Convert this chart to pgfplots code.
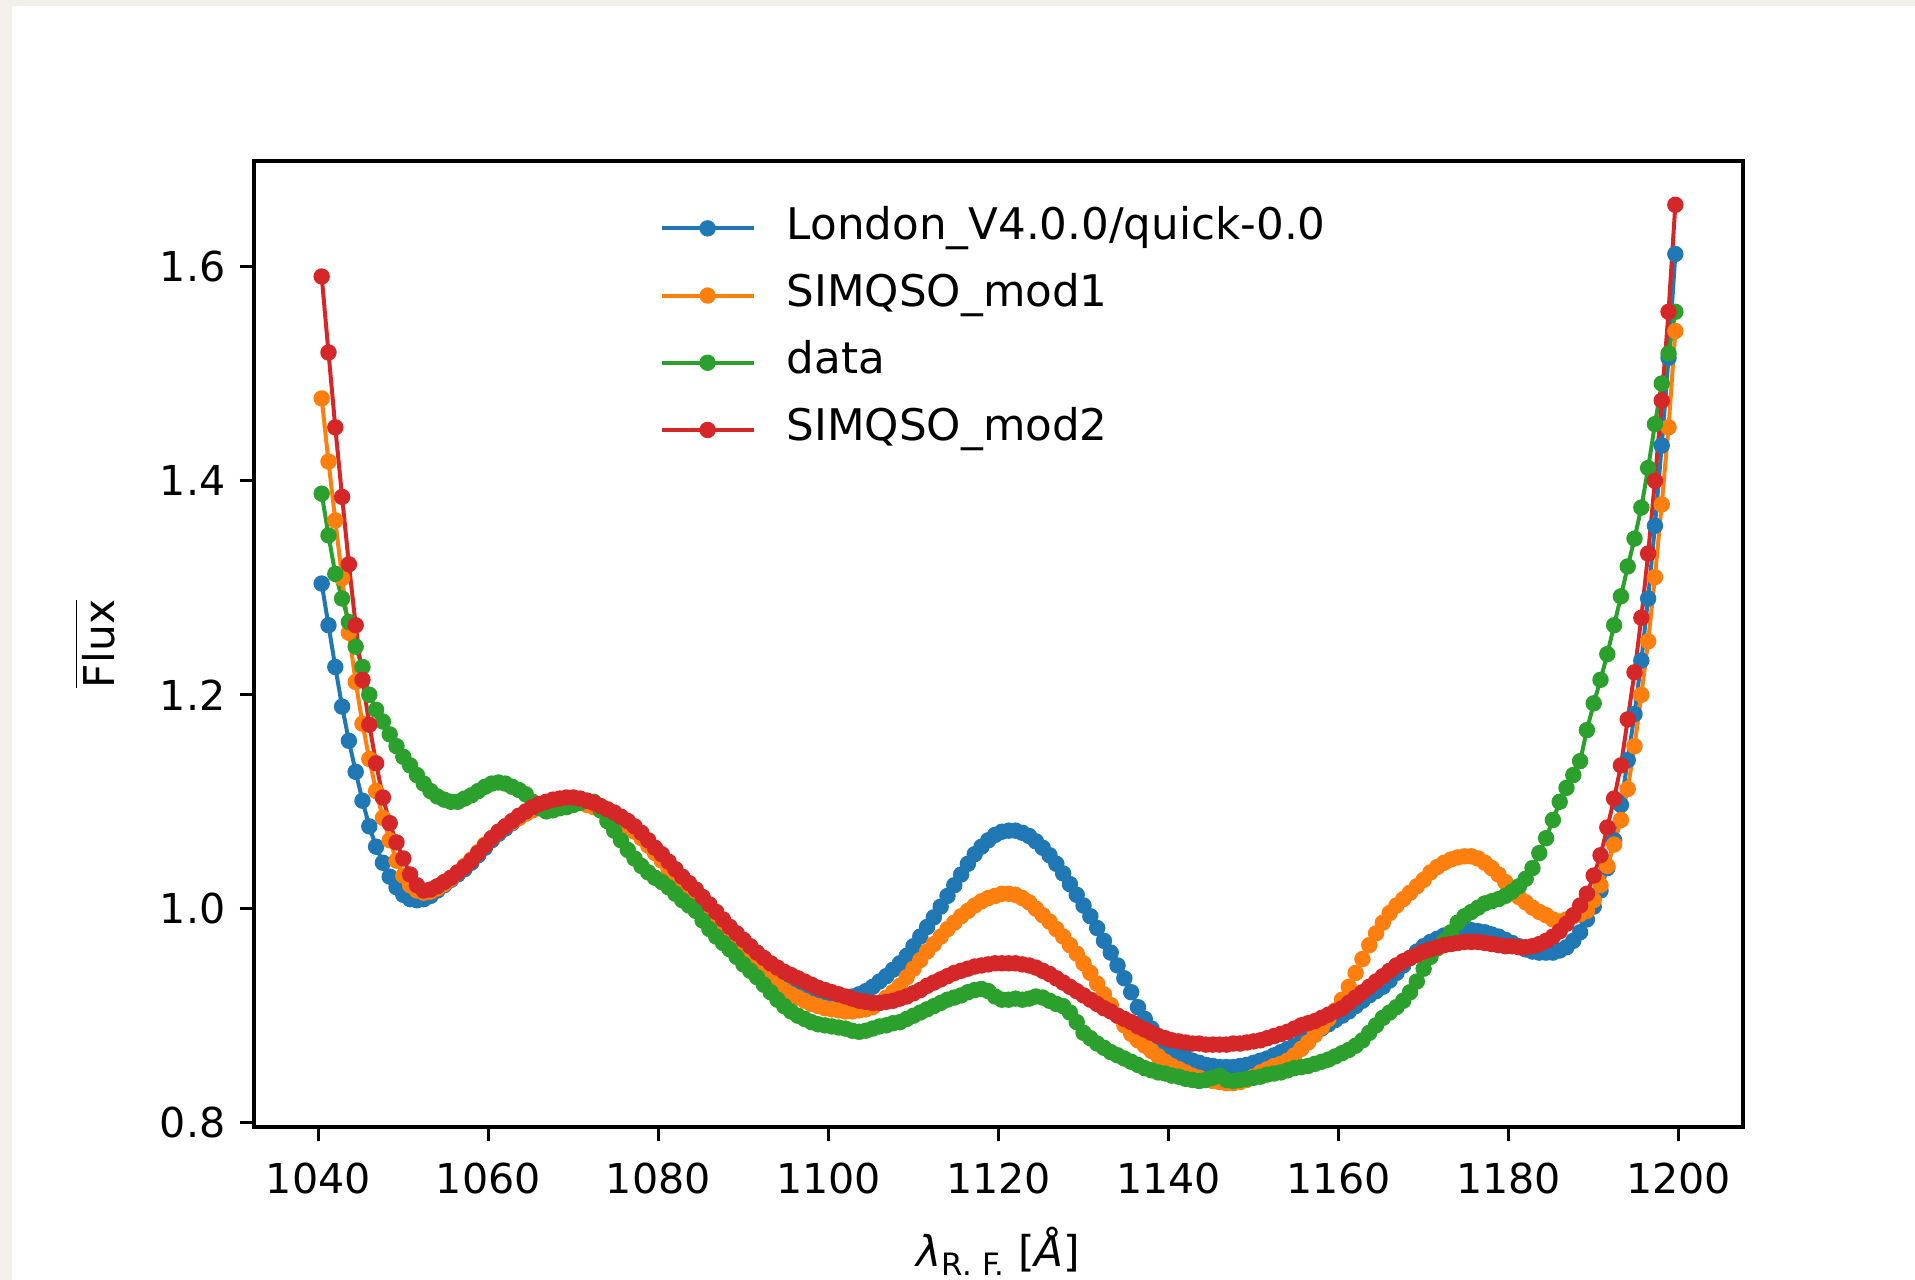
\documentclass[border=0pt]{standalone}
\usepackage{fontspec}
\setmainfont{DejaVu Sans}
\usepackage{pgfplots}
\usepackage{pgfplotstable}
\pgfplotsset{compat=1.18}
\definecolor{tabblue}{HTML}{1F77B4}
\definecolor{taborange}{HTML}{FF7F0E}
\definecolor{tabgreen}{HTML}{2CA02C}
\definecolor{tabred}{HTML}{D62728}
\definecolor{bgbeige}{RGB}{243,240,233}

\pgfplotstableread{
x B O G R
1040.4 1.304 1.477 1.388 1.591
1041.2 1.265 1.418 1.349 1.520
1042.0 1.226 1.363 1.313 1.450
1042.8 1.189 1.309 1.290 1.385
1043.6 1.157 1.258 1.268 1.322
1044.4 1.128 1.212 1.245 1.265
1045.2 1.101 1.173 1.226 1.214
1046.0 1.077 1.140 1.200 1.172
1046.8 1.058 1.110 1.186 1.136
1047.6 1.043 1.085 1.175 1.104
1048.4 1.030 1.064 1.163 1.080
1049.2 1.020 1.045 1.152 1.062
1050.0 1.013 1.031 1.142 1.047
1050.8 1.009 1.022 1.134 1.032
1051.6 1.008 1.017 1.125 1.022
1052.4 1.009 1.015 1.117 1.017
1053.2 1.012 1.016 1.110 1.018
1054.0 1.017 1.019 1.105 1.021
1054.8 1.022 1.023 1.102 1.025
1055.6 1.027 1.028 1.100 1.029
1056.4 1.032 1.034 1.100 1.034
1057.2 1.037 1.040 1.103 1.039
1058.0 1.043 1.046 1.106 1.045
1058.8 1.050 1.053 1.110 1.052
1059.6 1.057 1.060 1.114 1.059
1060.4 1.064 1.066 1.117 1.066
1061.2 1.070 1.072 1.118 1.072
1062.0 1.075 1.077 1.117 1.077
1062.8 1.080 1.081 1.114 1.082
1063.6 1.085 1.085 1.111 1.087
1064.4 1.089 1.089 1.107 1.091
1065.2 1.093 1.092 1.100 1.095
1066.0 1.096 1.095 1.094 1.098
1066.8 1.098 1.097 1.091 1.100
1067.6 1.100 1.099 1.092 1.102
1068.4 1.101 1.100 1.094 1.103
1069.2 1.102 1.100 1.095 1.104
1070.0 1.102 1.100 1.097 1.104
1070.8 1.101 1.099 1.099 1.103
1071.6 1.099 1.097 1.101 1.101
1072.4 1.097 1.095 1.100 1.099
1073.2 1.094 1.092 1.092 1.096
1074.0 1.091 1.089 1.082 1.093
1074.8 1.088 1.085 1.073 1.090
1075.6 1.084 1.081 1.064 1.086
1076.4 1.080 1.077 1.055 1.082
1077.2 1.075 1.072 1.047 1.077
1078.0 1.069 1.066 1.040 1.071
1078.8 1.062 1.059 1.034 1.064
1079.6 1.055 1.052 1.029 1.057
1080.4 1.049 1.045 1.025 1.051
1081.2 1.042 1.037 1.020 1.044
1082.0 1.035 1.029 1.014 1.037
1082.8 1.028 1.021 1.008 1.030
1083.6 1.022 1.014 1.003 1.024
1084.4 1.016 1.007 0.998 1.018
1085.2 1.009 1.000 0.989 1.011
1086.0 1.002 0.992 0.981 1.004
1086.8 0.995 0.984 0.974 0.997
1087.6 0.988 0.977 0.968 0.990
1088.4 0.981 0.970 0.962 0.983
1089.2 0.975 0.963 0.955 0.977
1090.0 0.969 0.956 0.948 0.971
1090.8 0.963 0.950 0.942 0.965
1091.6 0.957 0.944 0.936 0.959
1092.4 0.952 0.938 0.929 0.954
1093.2 0.947 0.933 0.922 0.949
1094.0 0.943 0.928 0.915 0.945
1094.8 0.939 0.924 0.909 0.941
1095.6 0.935 0.920 0.904 0.938
1096.4 0.932 0.917 0.900 0.935
1097.2 0.929 0.914 0.897 0.932
1098.0 0.926 0.911 0.894 0.929
1098.8 0.923 0.909 0.892 0.926
1099.6 0.920 0.907 0.891 0.924
1100.4 0.918 0.906 0.890 0.922
1101.2 0.917 0.905 0.889 0.920
1102.0 0.917 0.904 0.888 0.918
1102.8 0.918 0.904 0.886 0.916
1103.6 0.920 0.905 0.885 0.914
1104.4 0.923 0.906 0.886 0.913
1105.2 0.927 0.908 0.888 0.912
1106.0 0.932 0.912 0.890 0.912
1106.8 0.937 0.917 0.891 0.913
1107.6 0.943 0.922 0.893 0.914
1108.4 0.949 0.928 0.894 0.916
1109.2 0.956 0.936 0.897 0.918
1110.0 0.965 0.944 0.900 0.921
1110.8 0.974 0.952 0.903 0.924
1111.6 0.983 0.960 0.906 0.928
1112.4 0.992 0.967 0.909 0.931
1113.2 1.002 0.974 0.912 0.934
1114.0 1.012 0.981 0.915 0.937
1114.8 1.022 0.987 0.917 0.940
1115.6 1.032 0.993 0.919 0.942
1116.4 1.042 0.998 0.922 0.944
1117.2 1.051 1.003 0.924 0.946
1118.0 1.058 1.007 0.925 0.947
1118.8 1.064 1.010 0.923 0.948
1119.6 1.069 1.012 0.918 0.949
1120.4 1.072 1.014 0.915 0.949
1121.2 1.073 1.014 0.915 0.949
1122.0 1.073 1.013 0.916 0.949
1122.8 1.071 1.010 0.915 0.948
1123.6 1.068 1.006 0.916 0.947
1124.4 1.063 1.000 0.918 0.945
1125.2 1.057 0.994 0.917 0.942
1126.0 1.050 0.988 0.914 0.939
1126.8 1.042 0.981 0.911 0.935
1127.6 1.033 0.974 0.909 0.931
1128.4 1.023 0.966 0.903 0.927
1129.2 1.013 0.958 0.894 0.923
1130.0 1.003 0.949 0.884 0.919
1130.8 0.993 0.940 0.879 0.915
1131.6 0.982 0.930 0.874 0.911
1132.4 0.970 0.920 0.870 0.907
1133.2 0.959 0.910 0.866 0.904
1134.0 0.947 0.900 0.863 0.900
1134.8 0.935 0.891 0.860 0.897
1135.6 0.922 0.883 0.857 0.894
1136.4 0.908 0.877 0.854 0.890
1137.2 0.897 0.872 0.851 0.887
1138.0 0.888 0.867 0.849 0.884
1138.8 0.880 0.862 0.847 0.881
1139.6 0.873 0.857 0.846 0.879
1140.4 0.868 0.853 0.844 0.877
1141.2 0.864 0.850 0.843 0.876
1142.0 0.861 0.847 0.841 0.875
1142.8 0.858 0.844 0.840 0.874
1143.6 0.856 0.842 0.839 0.874
1144.4 0.854 0.840 0.840 0.873
1145.2 0.853 0.839 0.842 0.873
1146.0 0.852 0.838 0.844 0.873
1146.8 0.852 0.837 0.840 0.873
1147.6 0.852 0.837 0.839 0.874
1148.4 0.853 0.838 0.840 0.874
1149.2 0.854 0.840 0.841 0.875
1150.0 0.856 0.843 0.842 0.876
1150.8 0.858 0.847 0.843 0.877
1151.6 0.860 0.850 0.845 0.879
1152.4 0.863 0.853 0.846 0.881
1153.2 0.866 0.855 0.847 0.883
1154.0 0.869 0.858 0.849 0.885
1154.8 0.872 0.863 0.851 0.888
1155.6 0.876 0.869 0.852 0.891
1156.4 0.880 0.875 0.853 0.893
1157.2 0.884 0.882 0.855 0.895
1158.0 0.888 0.889 0.857 0.898
1158.8 0.892 0.897 0.859 0.901
1159.6 0.896 0.905 0.862 0.904
1160.4 0.900 0.915 0.865 0.907
1161.2 0.904 0.927 0.868 0.912
1162.0 0.909 0.940 0.872 0.917
1162.8 0.914 0.953 0.877 0.922
1163.6 0.919 0.966 0.884 0.927
1164.4 0.923 0.977 0.891 0.932
1165.2 0.927 0.987 0.898 0.937
1166.0 0.933 0.996 0.903 0.942
1166.8 0.940 1.003 0.908 0.947
1167.6 0.947 1.009 0.914 0.951
1168.4 0.954 1.015 0.922 0.954
1169.2 0.960 1.021 0.932 0.957
1170.0 0.965 1.027 0.944 0.960
1170.8 0.969 1.034 0.955 0.962
1171.6 0.972 1.039 0.963 0.964
1172.4 0.975 1.043 0.970 0.966
1173.2 0.977 1.046 0.978 0.967
1174.0 0.978 1.048 0.987 0.968
1174.8 0.979 1.049 0.993 0.969
1175.6 0.980 1.049 0.997 0.969
1176.4 0.979 1.047 1.001 0.969
1177.2 0.978 1.043 1.005 0.968
1178.0 0.976 1.038 1.007 0.967
1178.8 0.974 1.032 1.009 0.966
1179.6 0.971 1.025 1.012 0.965
1180.4 0.968 1.018 1.016 0.965
1181.2 0.965 1.011 1.021 0.964
1182.0 0.962 1.006 1.028 0.964
1182.8 0.960 1.001 1.038 0.965
1183.6 0.959 0.997 1.052 0.967
1184.4 0.959 0.994 1.066 0.970
1185.2 0.959 0.990 1.083 0.974
1186.0 0.961 0.988 1.100 0.979
1186.8 0.964 0.990 1.113 0.986
1187.6 0.970 0.993 1.125 0.994
1188.4 0.978 0.995 1.138 1.003
1189.2 0.990 0.998 1.167 1.014
1190.0 1.002 1.008 1.192 1.031
1190.8 1.017 1.022 1.214 1.050
1191.6 1.038 1.040 1.238 1.076
1192.4 1.064 1.060 1.265 1.103
1193.2 1.097 1.083 1.292 1.134
1194.0 1.139 1.112 1.320 1.177
1194.8 1.182 1.152 1.346 1.221
1195.6 1.232 1.200 1.375 1.272
1196.4 1.290 1.250 1.412 1.332
1197.2 1.358 1.310 1.453 1.400
1198.0 1.433 1.378 1.491 1.475
1198.8 1.515 1.450 1.519 1.558
1199.6 1.612 1.540 1.558 1.658
}\datatable

\begin{document}
\begin{tikzpicture}
\fill[bgbeige] (0,0) rectangle (478.75pt,320pt);
\fill[white] (2.9pt,0) rectangle (478.75pt,318.4pt);
\begin{axis}[
  at={(63.5pt,38.25pt)}, anchor=south west,
  width=372.25pt, height=241.5pt, scale only axis,
  xmin=1032.44, xmax=1207.56, ymin=0.796, ymax=1.699,
  xtick={1040,1060,1080,1100,1120,1140,1160,1180,1200},
  ytick={0.8,1.0,1.2,1.4,1.6},
  xtick pos=bottom, ytick pos=left,
  tick align=outside, major tick length=3.6pt,
  tick style={line width=0.8pt, black},
  axis line style={line width=0.8pt},
  /pgf/number format/1000 sep={},
  /pgf/number format/assume math mode=true,
  yticklabel style={/pgf/number format/.cd, fixed, fixed zerofill, precision=1},
  xticklabel style={yshift=-1.8pt},
  ticklabel style={font=\fontsize{10.3}{12}\selectfont},
  xlabel={\textit{λ}\raisebox{-0.4ex}{\fontsize{7.7}{8}\selectfont R.\,\,F.}\ [\textit{Å}]},
  ylabel={$\overline{\mbox{Flux}}$},
  label style={font=\fontsize{10.6}{12}\selectfont},
  xlabel style={at={(axis description cs:0.5,-0.129)}, anchor=center},
  ylabel style={at={(axis description cs:-0.107,0.5)}, anchor=center},
  legend cell align=left,
  legend style={at={(axis description cs:0.2724,0.952)}, anchor=north west,
    draw=none, fill=none, inner sep=0pt, outer sep=0pt,
    font=\fontsize{10.9}{13}\selectfont, row sep=6.3pt,
    nodes={inner sep=0pt, text height=8pt, text depth=2.5pt},
    /tikz/every odd column/.append style={column sep=7.8pt}},
  legend image code/.code={\draw[mark repeat=2,mark phase=2] plot coordinates {(0pt,0pt) (11.5pt,0pt) (23pt,0pt)};},
  every axis plot/.append style={line width=1pt, mark=*, mark size=1.85pt, mark options={line width=0.4pt}},
]
\addplot[color=tabblue] table[x=x,y=B]{\datatable};
\addlegendentry{London\_V4.0.0/quick-0.0}
\addplot[color=taborange] table[x=x,y=O]{\datatable};
\addlegendentry{SIMQSO\_mod1}
\addplot[color=tabgreen] table[x=x,y=G]{\datatable};
\addlegendentry{data}
\addplot[color=tabred] table[x=x,y=R]{\datatable};
\addlegendentry{SIMQSO\_mod2}
\end{axis}
\pgfresetboundingbox
\path[use as bounding box] (0,0) rectangle (478.75pt,320pt);
\end{tikzpicture}
\end{document}
